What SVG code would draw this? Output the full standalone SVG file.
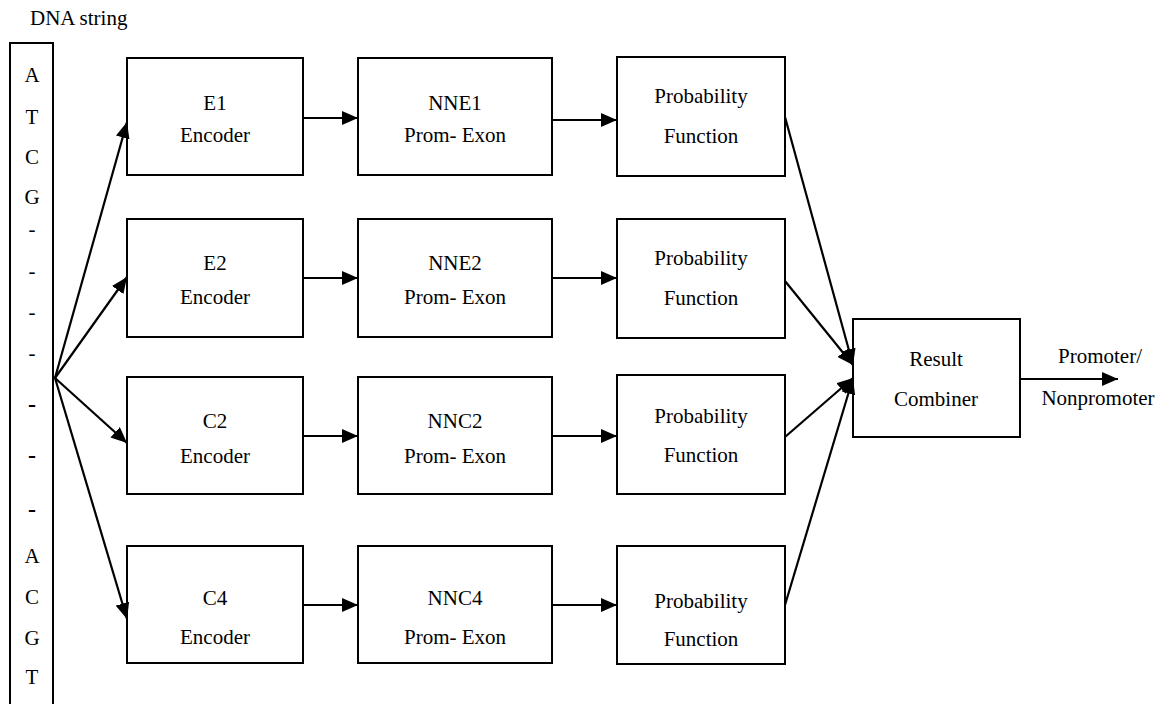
<svg xmlns="http://www.w3.org/2000/svg" width="1168" height="704" viewBox="0 0 1168 704" font-family="'Liberation Serif', 'Times New Roman', 'DejaVu Serif', serif">
<style>
text{font-family:'Liberation Serif','Times New Roman','DejaVu Serif',serif;font-size:21px;fill:#000}
.c{text-anchor:middle}
.box{fill:#fff;stroke:#000;stroke-width:2}
.ln{fill:none;stroke:#000;stroke-width:2.2}
.bd{font-weight:bold;font-size:24px}
</style>
<defs>
<marker id="ah" viewBox="0 0 16 14" refX="16" refY="7" markerWidth="16" markerHeight="14" markerUnits="userSpaceOnUse" orient="auto">
<path d="M0,0 L16,7 L0,14 Z" fill="#000"/>
</marker>
</defs>
<rect width="1168" height="704" fill="#fff"/>

<g id="dna-string">
<text x="30" y="25">DNA string</text>
<path class="ln" d="M10,704 V43 H53 V704" style="stroke-width:2"/>
<text class="c" x="32" y="82">A</text>
<text class="c" x="32" y="124">T</text>
<text class="c" x="32" y="164">C</text>
<text class="c" x="32" y="204">G</text>
<text class="c" x="32" y="236">-</text>
<text class="c" x="32" y="278">-</text>
<text class="c" x="32" y="319">-</text>
<text class="c" x="32" y="360">-</text>
<text class="c bd" x="32" y="412">-</text>
<text class="c bd" x="32" y="463">-</text>
<text class="c bd" x="32" y="517">-</text>
<text class="c" x="32" y="563">A</text>
<text class="c" x="32" y="604">C</text>
<text class="c" x="32" y="645">G</text>
<text class="c" x="32" y="684">T</text>
</g>

<g id="e1"><rect class="box" x="127" y="58" width="176" height="117"/><text class="c" x="215" y="110">E1</text><text class="c" x="215" y="142">Encoder</text></g>
<g id="e2"><rect class="box" x="127" y="219" width="176" height="118"/><text class="c" x="215" y="270">E2</text><text class="c" x="215" y="304">Encoder</text></g>
<g id="c2"><rect class="box" x="127" y="377" width="176" height="117"/><text class="c" x="215" y="428">C2</text><text class="c" x="215" y="463">Encoder</text></g>
<g id="c4"><rect class="box" x="127" y="546" width="176" height="117"/><text class="c" x="215" y="605">C4</text><text class="c" x="215" y="644">Encoder</text></g>

<g id="nne1"><rect class="box" x="358" y="58" width="194" height="117"/><text class="c" x="455" y="110">NNE1</text><text class="c" x="455" y="142">Prom- Exon</text></g>
<g id="nne2"><rect class="box" x="358" y="219" width="194" height="118"/><text class="c" x="455" y="270">NNE2</text><text class="c" x="455" y="304">Prom- Exon</text></g>
<g id="nnc2"><rect class="box" x="358" y="377" width="194" height="117"/><text class="c" x="455" y="428">NNC2</text><text class="c" x="455" y="463">Prom- Exon</text></g>
<g id="nnc4"><rect class="box" x="358" y="546" width="194" height="117"/><text class="c" x="455" y="605">NNC4</text><text class="c" x="455" y="644">Prom- Exon</text></g>

<g id="prob1"><rect class="box" x="617" y="57" width="168" height="119"/><text class="c" x="701" y="103">Probability</text><text class="c" x="701" y="143">Function</text></g>
<g id="prob2"><rect class="box" x="617" y="219" width="168" height="119"/><text class="c" x="701" y="265">Probability</text><text class="c" x="701" y="305">Function</text></g>
<g id="prob3"><rect class="box" x="617" y="375" width="168" height="119"/><text class="c" x="701" y="423">Probability</text><text class="c" x="701" y="462">Function</text></g>
<g id="prob4"><rect class="box" x="617" y="546" width="168" height="118"/><text class="c" x="701" y="608">Probability</text><text class="c" x="701" y="646">Function</text></g>

<g id="result-combiner"><rect class="box" x="853" y="319" width="167" height="118"/><text class="c" x="936" y="366">Result</text><text class="c" x="936" y="406">Combiner</text></g>

<g id="output-label"><text class="c" x="1100" y="363">Promoter/</text><text class="c" x="1098" y="405">Nonpromoter</text></g>

<g id="connectors" class="ln">
<line x1="55" y1="378" x2="127" y2="122" marker-end="url(#ah)"/>
<line x1="55" y1="378" x2="127" y2="277" marker-end="url(#ah)"/>
<line x1="55" y1="378" x2="127" y2="443" marker-end="url(#ah)"/>
<line x1="55" y1="378" x2="127" y2="619" marker-end="url(#ah)"/>
<line x1="303" y1="118" x2="358" y2="118" marker-end="url(#ah)"/>
<line x1="303" y1="278" x2="358" y2="278" marker-end="url(#ah)"/>
<line x1="303" y1="436" x2="358" y2="436" marker-end="url(#ah)"/>
<line x1="303" y1="605" x2="358" y2="605" marker-end="url(#ah)"/>
<line x1="552" y1="120" x2="617" y2="120" marker-end="url(#ah)"/>
<line x1="552" y1="278" x2="617" y2="278" marker-end="url(#ah)"/>
<line x1="552" y1="436" x2="617" y2="436" marker-end="url(#ah)"/>
<line x1="552" y1="605" x2="617" y2="605" marker-end="url(#ah)"/>
<line x1="785" y1="117" x2="853" y2="365" marker-end="url(#ah)"/>
<line x1="785" y1="281" x2="853" y2="365" marker-end="url(#ah)"/>
<line x1="785" y1="437" x2="853" y2="378" marker-end="url(#ah)"/>
<line x1="785" y1="605" x2="853" y2="378" marker-end="url(#ah)"/>
<line x1="1020" y1="379" x2="1118" y2="379" marker-end="url(#ah)"/>
</g>
</svg>
